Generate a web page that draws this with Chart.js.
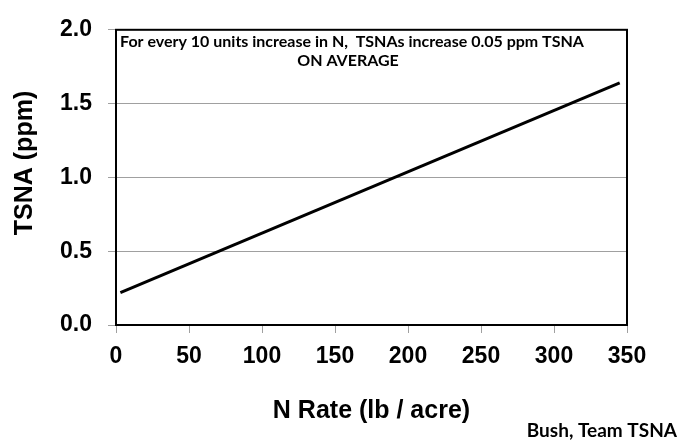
<!DOCTYPE html>
<html>
<head>
<meta charset="utf-8">
<script src="https://cdn.jsdelivr.net/npm/chart.js@4"></script>
<style>
  html, body { margin: 0; padding: 0; background: #fff; }
  #wrap { width: 691px; height: 442px; }
</style>
</head>
<body>
<div id="wrap"><canvas id="chart" width="691" height="442"></canvas></div>
<script>
// --- data ---
const nRate = [3, 345];
const tsna = [0.22, 1.64];
const xTicks = [0, 50, 100, 150, 200, 250, 300, 350];
const yTicks = [0.0, 0.5, 1.0, 1.5, 2.0];
const yTitle = 'TSNA (ppm)';
const noteLines = ['For every 10 units increase in N,  TSNAs increase 0.05 ppm TSNA', 'ON AVERAGE'];
const credit = 'Bush, Team TSNA';

const points = nRate.map((x, i) => ({ x: x, y: tsna[i] }));
const arialBold = '"Liberation Sans", Arial, sans-serif';

// box round the plot, y title, the note text and the credit
const extras = {
    id: 'extras',
    afterDraw(chart) {
        const ctx = chart.ctx;
        const a = chart.chartArea;
        ctx.save();
        ctx.strokeStyle = '#000';
        ctx.lineWidth = 2;
        ctx.strokeRect(a.left, a.top, a.right - a.left, a.bottom - a.top);

        ctx.fillStyle = '#000';
        ctx.save();
        ctx.translate(25, 163);
        ctx.rotate(-Math.PI / 2);
        ctx.font = 'bold 25px ' + arialBold;
        ctx.textAlign = 'center';
        ctx.textBaseline = 'middle';
        ctx.fillText(yTitle, 0, 0);
        ctx.restore();

        ctx.font = 'bold 16px Lato, "Open Sans", sans-serif';
        ctx.textAlign = 'center';
        ctx.textBaseline = 'middle';
        ctx.fillText(noteLines[0], 352, 42);
        ctx.fillText(noteLines[1], 348, 61);

        ctx.font = 'bold 19px Lato, "Open Sans", sans-serif';
        ctx.textAlign = 'right';
        ctx.fillText(credit, 677, 431);
        ctx.restore();
    }
};

new Chart(document.getElementById('chart'), {
    type: 'scatter',
    data: {
        datasets: [{
            data: points,
            showLine: true,
            borderColor: '#000',
            borderWidth: 3,
            pointRadius: 0,
            fill: false
        }]
    },
    options: {
        responsive: false,
        animation: false,
        layout: { padding: { top: 18, right: 64, bottom: 0, left: 0 } },
        plugins: { legend: { display: false }, tooltip: { enabled: false } },
        scales: {
            x: {
                type: 'linear',
                min: 0,
                max: 350,
                afterFit: s => { s.height = 117; },
                afterBuildTicks: s => { s.ticks = xTicks.map(v => ({ value: v })); },
                grid: { drawOnChartArea: false, drawTicks: true, tickLength: 8, color: '#a0a0a0' },
                border: { color: '#000', width: 2 },
                ticks: {
                    color: '#000',
                    padding: 10,
                    font: { family: arialBold, size: 23, weight: 'bold' }
                },
                title: {
                    display: true,
                    text: 'N Rate (lb / acre)',
                    color: '#000',
                    padding: { top: 0, bottom: 16 },
                    font: { family: arialBold, size: 25, weight: 'bold' }
                }
            },
            y: {
                min: 0,
                max: 2,
                afterFit: s => { s.width = 116; },
                afterBuildTicks: s => { s.ticks = yTicks.map(v => ({ value: v })); },
                grid: { drawTicks: true, tickLength: 8, color: '#a0a0a0' },
                border: { color: '#000', width: 2 },
                ticks: {
                    color: '#000',
                    padding: 16,
                    callback: v => v.toFixed(1),
                    font: { family: arialBold, size: 23, weight: 'bold' }
                }
            }
        }
    },
    plugins: [extras]
});
</script>
</body>
</html>
